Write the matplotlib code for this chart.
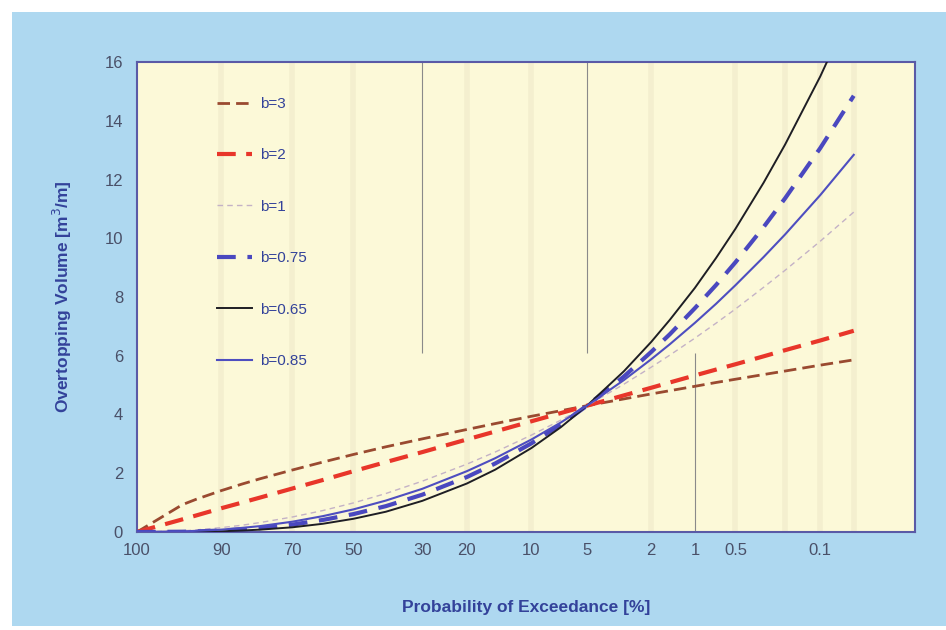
import numpy as np
import matplotlib
matplotlib.use("Agg")
import matplotlib.pyplot as plt
from matplotlib.patches import Rectangle

# probability of exceedance [%] at which the curves are tabulated
prob = [100, 97, 95, 90, 85, 80, 70, 60, 50, 40, 30, 20, 15, 10, 7, 5,
        3, 2, 1.5, 1, 0.7, 0.5, 0.3, 0.2, 0.1, 0.05]

# overtopping volume [m3/m] for each shape factor b
v_b3 = [0.0, 0.93, 1.11, 1.41, 1.63, 1.81, 2.11, 2.38, 2.64, 2.90, 3.17, 3.49, 3.69,
        3.94, 4.13, 4.30, 4.53, 4.70, 4.81, 4.96, 5.09, 5.20, 5.36, 5.48, 5.68, 5.86]
v_b2 = [0.0, 0.43, 0.56, 0.81, 1.00, 1.17, 1.48, 1.77, 2.07, 2.38, 2.72, 3.15, 3.42,
        3.77, 4.05, 4.30, 4.65, 4.91, 5.09, 5.33, 5.53, 5.71, 5.98, 6.19, 6.52, 6.85]
v_b1 = [0.0, 0.04, 0.07, 0.15, 0.23, 0.32, 0.51, 0.73, 0.99, 1.31, 1.73, 2.31, 2.72,
        3.30, 3.81, 4.30, 5.03, 5.61, 6.02, 6.60, 7.11, 7.59, 8.33, 8.91, 9.90, 10.89]
v_b075 = [0.0, 0.01, 0.02, 0.05, 0.09, 0.13, 0.25, 0.41, 0.61, 0.88, 1.27, 1.87, 2.33,
          3.02, 3.66, 4.30, 5.29, 6.13, 6.73, 7.62, 8.41, 9.18, 10.38, 11.36, 13.07, 14.85]
v_b065 = [0.0, 0.004, 0.008, 0.025, 0.05, 0.08, 0.16, 0.28, 0.45, 0.69, 1.06, 1.65, 2.12,
          2.86, 3.57, 4.30, 5.47, 6.47, 7.22, 8.31, 9.33, 10.32, 11.89, 13.19, 15.51, 17.98]
v_b085 = [0.0, 0.02, 0.04, 0.08, 0.14, 0.20, 0.35, 0.54, 0.77, 1.07, 1.47, 2.07, 2.51,
          3.15, 3.73, 4.30, 5.17, 5.88, 6.39, 7.12, 7.77, 8.40, 9.36, 10.13, 11.47, 12.84]

xticks = [100, 90, 70, 50, 30, 20, 10, 5, 2, 1, 0.5, 0.1]
xticklabels = ["100", "90", "70", "50", "30", "20", "10", "5", "2", "1", "0.5", "0.1"]
yticks = [0, 2, 4, 6, 8, 10, 12, 14, 16]


# Weibull-type probability axis: distance from 100 % ~ sqrt(-ln P)
def fwd(p):
    p = np.clip(np.asarray(p, dtype=float), 1e-12, None)
    return -np.sqrt(np.maximum(-np.log(p / 100.0), 0.0))


def inv(u):
    return 100.0 * np.exp(-np.asarray(u, dtype=float) ** 2)


txt_col = "#33429a"
tick_col = "#4a5068"

fig = plt.figure(figsize=(9.46, 6.3), dpi=100, facecolor="white")
fig.patches.append(Rectangle((12 / 946, 4 / 630), 934 / 946, 614 / 630,
                             transform=fig.transFigure, facecolor="#aed8f0",
                             edgecolor="none", zorder=-10))

ax = fig.add_axes([137 / 946, 98 / 630, 778 / 946, 470 / 630])
ax.set_facecolor("#fcf9d8")
ax.set_xscale("function", functions=(fwd, inv))
ax.set_xlim(100, 0.0129)
ax.set_ylim(0, 16)

# faint bands and the few darker grid lines
for p in [90, 70, 50, 20, 10, 2, 0.5, 0.2, 0.1, 0.05]:
    ax.axvline(p, color="#f4efcf", lw=4, zorder=0)
ax.vlines([30, 5], 6.1, 16, color="#8a8a8a", lw=0.8, zorder=1)
ax.vlines([1], 0, 6.1, color="#8a8a8a", lw=0.8, zorder=1)

ax.plot(prob, v_b3, color="#9a4a30", lw=2, dashes=(4.5, 2.2), label="b=3", zorder=3)
ax.plot(prob, v_b2, color="#e8362a", lw=3, dashes=(4.5, 2.5), label="b=2", zorder=3)
ax.plot(prob, v_b1, color="#c4b2c6", lw=1, dashes=(4, 3), label="b=1", zorder=3)
ax.plot(prob, v_b075, color="#4a48bf", lw=3, dashes=(4.5, 2.8), label="b=0.75", zorder=3)
ax.plot(prob, v_b065, color="#1e1e24", lw=1.4, label="b=0.65", zorder=4)
ax.plot(prob, v_b085, color="#4e4ec0", lw=1.5, label="b=0.85", zorder=4)

ax.set_xticks(xticks)
ax.set_xticklabels(xticklabels)
ax.xaxis.set_minor_locator(matplotlib.ticker.NullLocator())
ax.set_yticks(yticks)
ax.tick_params(length=0, labelsize=12, labelcolor=tick_col)
ax.tick_params(axis="x", pad=8)
ax.tick_params(axis="y", pad=10)
for lab in ax.get_xticklabels() + ax.get_yticklabels():
    lab.set_fontfamily("Liberation Sans")

for s in ax.spines.values():
    s.set_color("#5a5aa6")
    s.set_linewidth(1.5)

ax.set_xlabel("Probability of Exceedance [%]", fontsize=12.5, fontweight="bold",
              color=txt_col, family="Liberation Sans", labelpad=30)
ax.set_ylabel("Overtopping Volume [m$^3$/m]", fontsize=12.5, fontweight="bold",
              color=txt_col, family="Liberation Sans", labelpad=22)

leg = ax.legend(loc="upper left", bbox_to_anchor=(0.085, 0.955), frameon=False,
                labelspacing=2.45, handlelength=2.3, handletextpad=0.5,
                prop={"family": "Liberation Sans", "size": 11})
for t in leg.get_texts():
    t.set_color(txt_col)

fig.savefig("out.png", dpi=100, facecolor=fig.get_facecolor())
